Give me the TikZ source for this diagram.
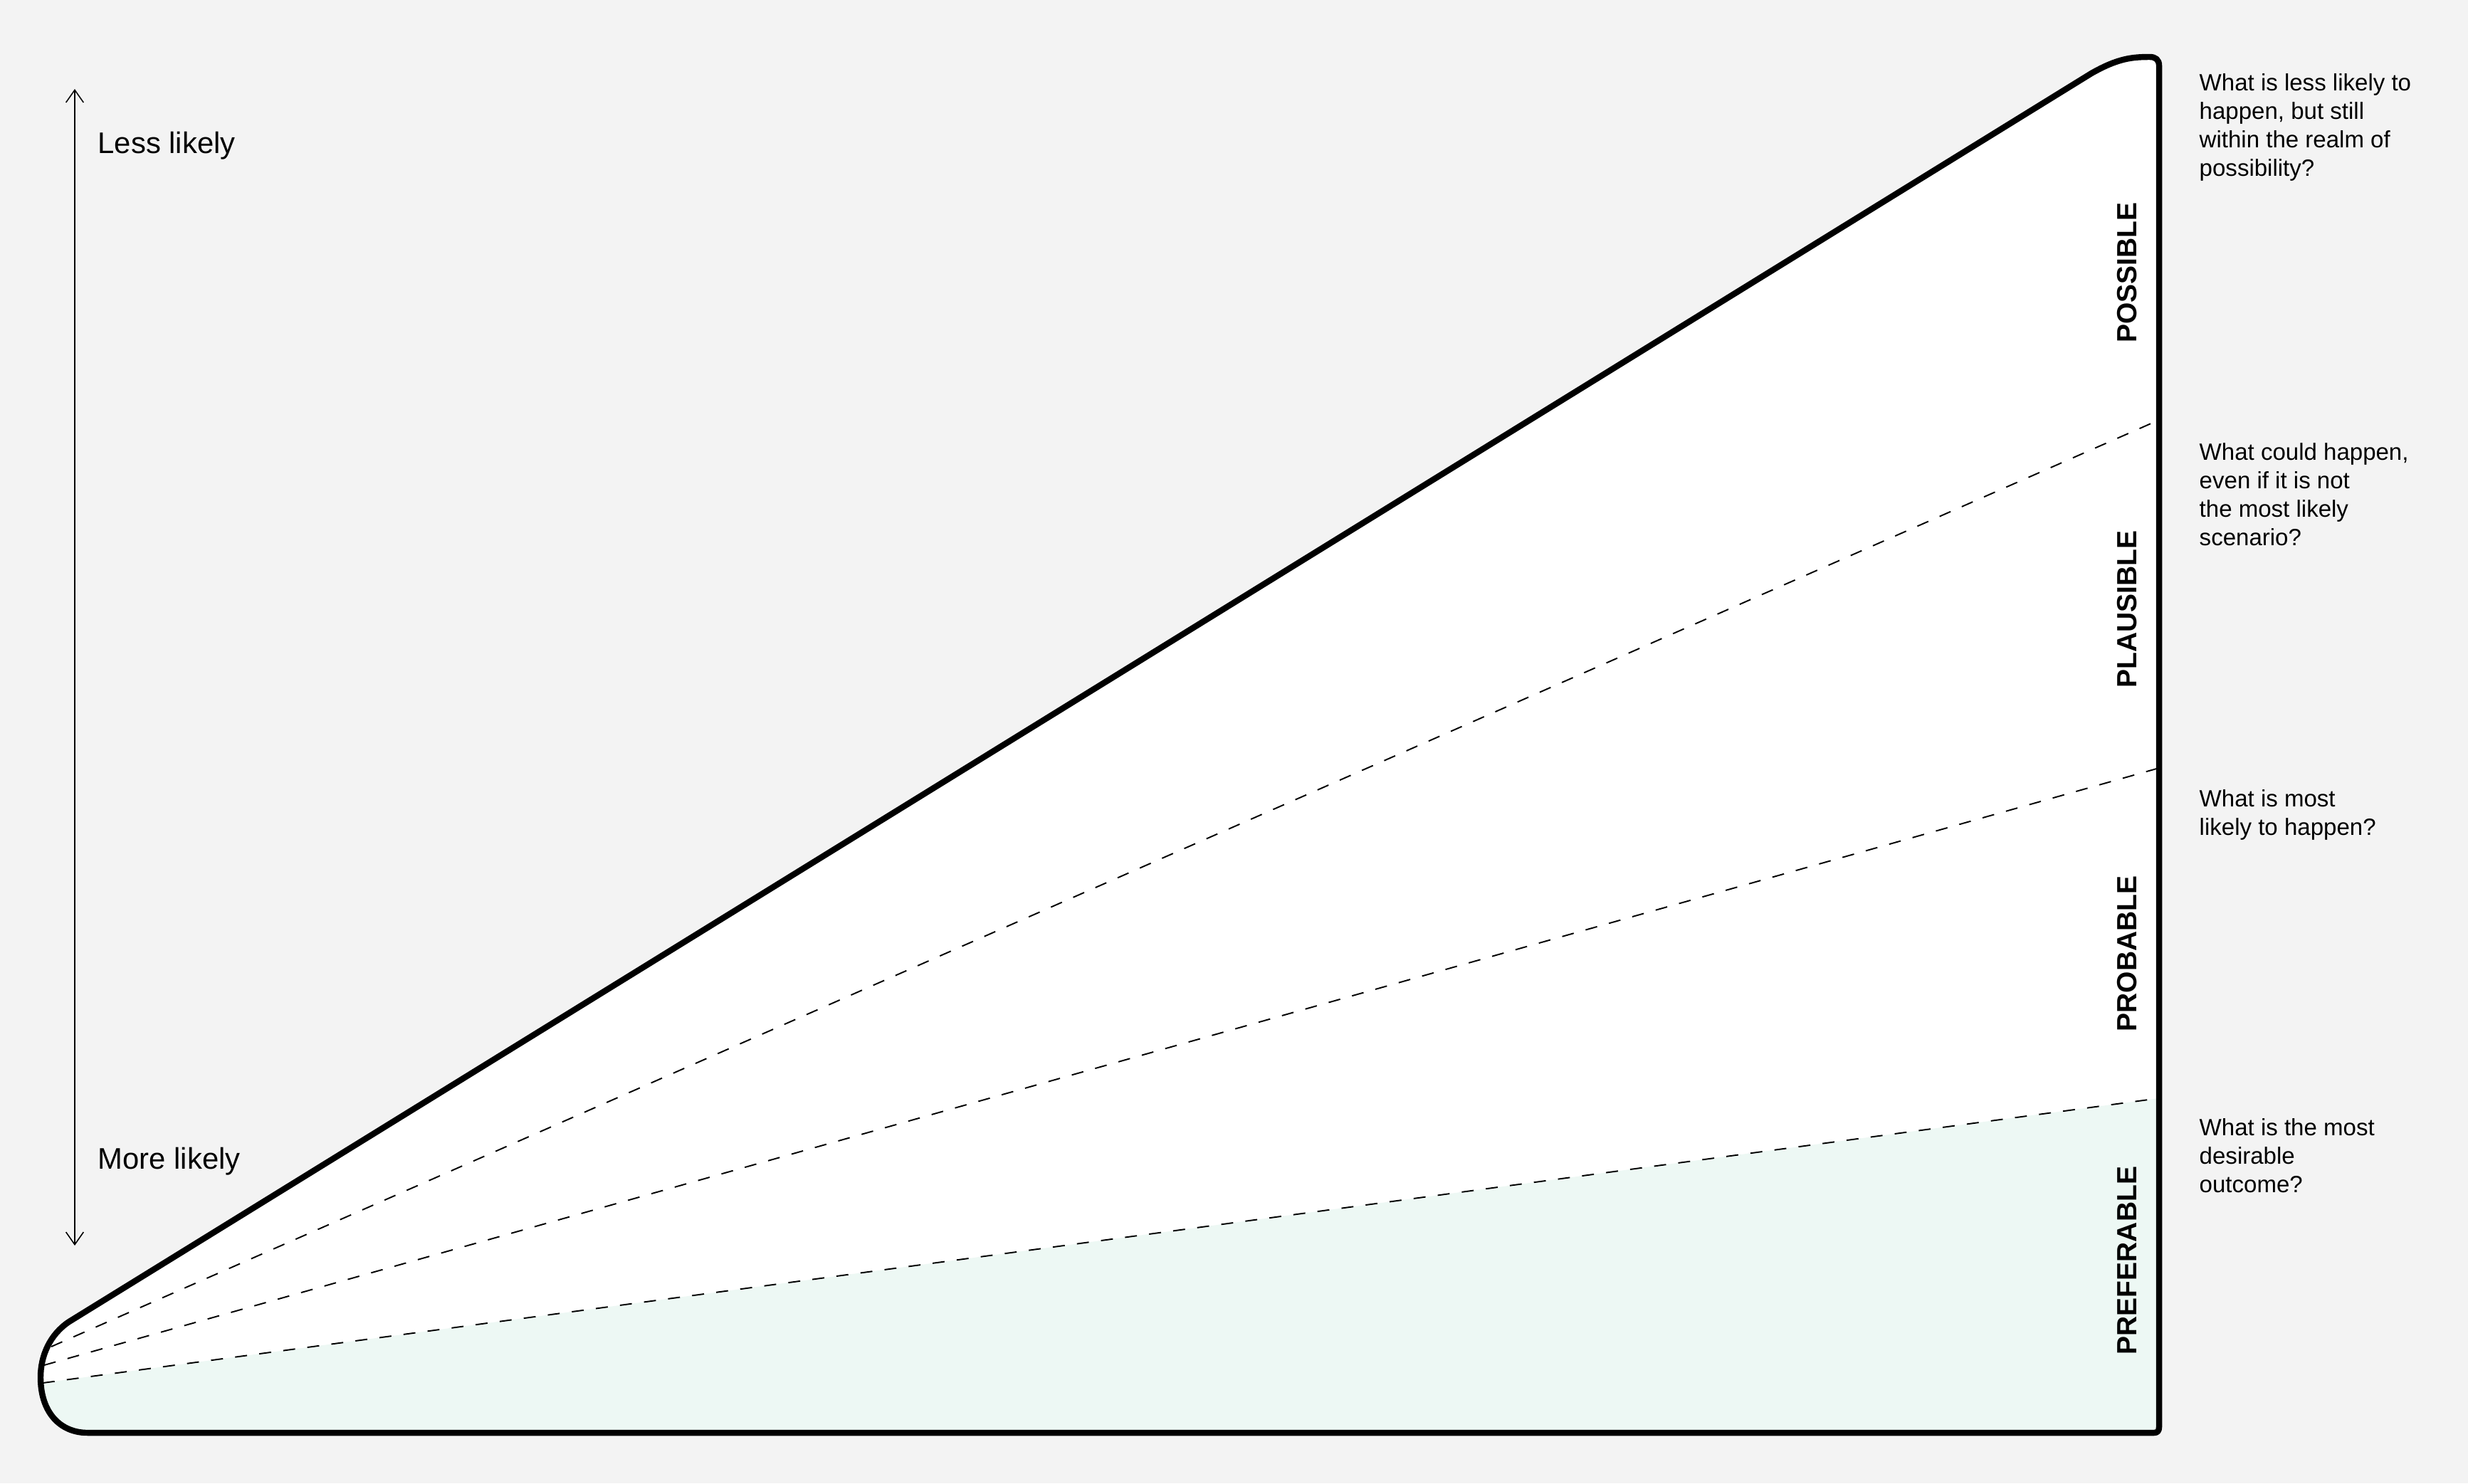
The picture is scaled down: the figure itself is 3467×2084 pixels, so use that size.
\documentclass[tikz,border=0pt]{standalone}
\usepackage{fontspec}
\setmainfont{Liberation Sans}
\usetikzlibrary{arrows.meta}
\definecolor{paper}{HTML}{F3F3F3}
\definecolor{mint}{HTML}{EDF8F4}

\begin{document}
\begin{tikzpicture}[
    x=0.1mm, y=-0.1mm,
    cone/.style={line width=2.4pt, line join=round},
    divider/.style={line width=0.55pt, dash pattern=on 4.8pt off 4.9pt},
    band/.style={rotate=90, inner sep=0pt, font=\fontsize{11.1}{13}\selectfont\bfseries},
    question/.style={anchor=north west, align=left, inner sep=0pt,
        font=\fontsize{9.4}{11.4}\selectfont},
    likely/.style={anchor=base west, inner sep=0pt, font=\fontsize{11.9}{14}\selectfont},
    likelihood/.style={line width=0.45pt,
        {Straight Barb[length=5pt,width=7pt]}-{Straight Barb[length=5pt,width=7pt]}}
]
    \useasboundingbox (0,0) rectangle (3467,2084);
    \fill[paper] (0,0) rectangle (3467,2084);

    % the cone
    \def\conepath{(97,1857) -- (2938,103) .. controls (2975,82) and (2995,80) .. (3020,80)
        .. controls (3028,80) and (3033,84) .. (3033,92) -- (3033,2005)
        .. controls (3033,2010) and (3031,2013) .. (3026,2013) -- (123,2013)
        .. controls (85,2013) and (57,1985) .. (57,1935)
        .. controls (57,1905) and (70,1875) .. (97,1857) -- cycle}
    \fill[white] \conepath;

    \coordinate (possL) at (72,1892);
    \coordinate (possR) at (3033,590);
    \coordinate (plauL) at (62,1918);
    \coordinate (plauR) at (3033,1079);
    \coordinate (probL) at (60,1943);
    \coordinate (probR) at (3033,1543);

    \begin{scope}
        \clip \conepath;
        \fill[mint] (probL) -- (probR) -- (3060,2040) -- (30,2040) -- cycle;
    \end{scope}

    \draw[divider] (possL) -- (possR);
    \draw[divider] (plauL) -- (plauR);
    \draw[divider] (probL) -- (probR);
    \draw[cone] \conepath;

    % bands
    \node[band] (possible) at (2988,383) {POSSIBLE};
    \node[band] (plausible) at (2988,856) {PLAUSIBLE};
    \node[band] (probable) at (2988,1340) {PROBABLE};
    \node[band] (preferable) at (2988,1771) {PREFERABLE};

    % questions
    \node[question] (qpossible) at (3089,103) {What is less likely to\\happen, but still\\within the realm of\\possibility?};
    \node[question] (qplausible) at (3089,622) {What could happen,\\even if it is not\\the most likely\\scenario?};
    \node[question] (qprobable) at (3089,1109) {What is most\\likely to happen?};
    \node[question] (qpreferable) at (3089,1571) {What is the most\\desirable\\outcome?};

    % likelihood scale
    \coordinate (less) at (105,125);
    \coordinate (more) at (105,1750);
    \draw[likelihood] (more) -- (less);
    \node[likely] (lesslikely) at (137,215) {Less likely};
    \node[likely] (morelikely) at (137,1642) {More likely};
\end{tikzpicture}
\end{document}
